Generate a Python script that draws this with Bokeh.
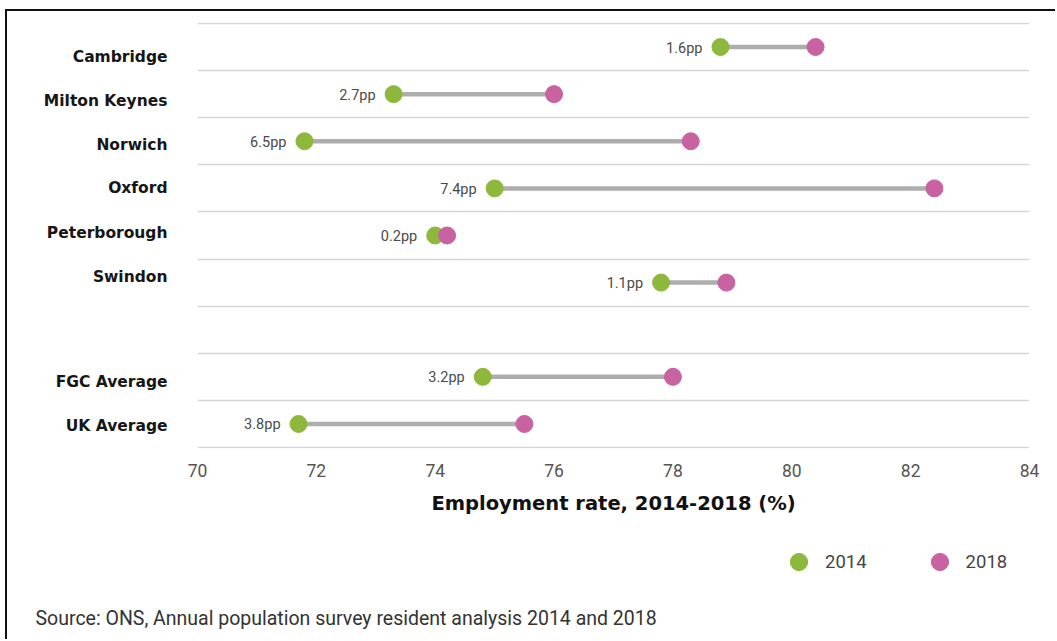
from bokeh.plotting import figure
from bokeh.layouts import column
from bokeh.models import (ColumnDataSource, FixedTicker, Range1d, Legend, LegendItem, Title)
from bokeh.core.properties import value
from bokeh.embed import file_html
from bokeh.resources import INLINE

areas = ["Cambridge", "Milton Keynes", "Norwich", "Oxford", "Peterborough",
         "Swindon", "FGC Average", "UK Average"]
rate_2014 = [78.8, 73.3, 71.8, 75.0, 74.0, 77.8, 74.8, 71.7]
rate_2018 = [80.4, 76.0, 78.3, 82.4, 74.2, 78.9, 78.0, 75.5]
change_labels = ["1.6pp", "2.7pp", "6.5pp", "7.4pp", "0.2pp", "1.1pp", "3.2pp", "3.8pp"]
x_ticks = [70, 72, 74, 76, 78, 80, 82, 84]
series_names = ["2014", "2018"]
source_text = "Source: ONS, Annual population survey resident analysis 2014 and 2018"
x_title = "Employment rate, 2014-2018 (%)"

# style: small vertical nudges (px) of the area names, as in the original layout
label_nudge_px = [10, 7, 4, 0, -2, -6, 5, 2]

GREEN = "#8DB83C"
PINK = "#C862A1"
W = 1050
ROW_PX = 47.1

# one blank row separates the six cities from the two averages
n_cities = 6
rows = [i if i < n_cities else i + 1 for i in range(len(areas))]
n_rows = len(areas) + 1

src = ColumnDataSource(dict(area=areas, row=rows, r14=rate_2014, r18=rate_2018, lbl=change_labels))

p = figure(width=W, height=519, output_backend="svg", toolbar_location=None,
           x_range=Range1d(x_ticks[0], x_ticks[-1]),
           y_range=Range1d(n_rows - 0.48, -0.52),
           min_border_left=190, min_border_right=28, min_border_top=11, min_border_bottom=82)
p.margin = (9, 0, 0, 5)
p.styles = {"border-top": "2px solid #111", "border-left": "2px solid #111"}
p.outline_line_color = None
p.background_fill_color = "white"
p.border_fill_color = "white"

# grid lines between rows
p.xgrid.visible = False
p.ygrid.ticker = FixedTicker(ticks=[r - 0.5 for r in range(n_rows + 1)])
p.ygrid.grid_line_color = "#D6D6D6"
p.ygrid.grid_line_width = 1.6

# connectors and dots
p.segment(x0="r14", y0="row", x1="r18", y1="row", source=src,
          line_color="#ADADAD", line_width=4.5)
p.scatter(x="r14", y="row", source=src, size=17, fill_color=GREEN, line_color=GREEN)
p.scatter(x="r18", y="row", source=src, size=17, fill_color=PINK, line_color=PINK)

p.text(x="r14", y="row", text="lbl", source=src, x_offset=-18, y_offset=1,
       text_align="right", text_baseline="middle", text_font=value("Roboto"),
       text_font_size="14.5px", text_color="#4A4A4A")

# y axis (area names)
label_pos = [r + n / ROW_PX for r, n in zip(rows, label_nudge_px)]
yax = p.yaxis[0]
yax.ticker = FixedTicker(ticks=label_pos)
yax.major_label_overrides = {lp: a for lp, a in zip(label_pos, areas)}
yax.axis_line_color = None
yax.major_tick_line_color = None
yax.major_tick_out = 0
yax.major_tick_in = 0
yax.minor_tick_line_color = None
yax.major_label_standoff = 30
yax.major_label_text_font = "DejaVu Sans"
yax.major_label_text_font_style = "bold"
yax.major_label_text_font_size = "15.5px"
yax.major_label_text_color = "#161616"

# x axis
xax = p.xaxis[0]
xax.ticker = FixedTicker(ticks=x_ticks)
xax.axis_line_color = None
xax.major_tick_line_color = None
xax.minor_tick_line_color = None
xax.major_tick_out = 0
xax.major_tick_in = 0
xax.major_label_standoff = 15
xax.major_label_text_font = "Roboto"
xax.major_label_text_font_size = "17.5px"
xax.major_label_text_color = "#555555"
xax.axis_label = x_title
xax.axis_label_standoff = 12
xax.axis_label_text_font = "DejaVu Sans"
xax.axis_label_text_font_style = "bold"
xax.axis_label_text_font_size = "19.5px"
xax.axis_label_text_color = "#111111"

# lower panel: legend and source note
H2 = 641 - 530
q = figure(width=W, height=H2, output_backend="svg", toolbar_location=None,
           x_range=Range1d(0, 832), y_range=Range1d(0, 71),
           x_axis_location=None, y_axis_location=None,
           min_border_left=190, min_border_right=28, min_border_top=0, min_border_bottom=40)
q.margin = (0, 0, 0, 5)
q.styles = {"border-left": "2px solid #111"}
q.outline_line_color = None
q.grid.visible = False
q.background_fill_color = "white"
q.border_fill_color = "white"

# legend proxies (hidden renderers, shown only as legend swatches)
l14 = q.scatter(x="r14", y="row", source=src, size=17, fill_color=GREEN, line_color=GREEN, visible=False)
l18 = q.scatter(x="r18", y="row", source=src, size=17, fill_color=PINK, line_color=PINK, visible=False)

legend = Legend(items=[LegendItem(label=series_names[0], renderers=[l14]),
                       LegendItem(label=series_names[1], renderers=[l18])],
                location=(580, 16), orientation="horizontal",
                glyph_width=43, glyph_height=43, label_standoff=5, spacing=51,
                padding=0, margin=0, border_line_color=None, background_fill_alpha=0,
                inactive_fill_alpha=0,
                label_text_font="Roboto", label_text_font_size="18.5px",
                label_text_color="#444444")
q.add_layout(legend)

q.add_layout(Title(text=source_text, align="left", offset=-162, standoff=10,
                   text_font="Roboto", text_font_size="19.5px", text_font_style="normal",
                   text_color="#333333"), "below")

layout = column(p, q, spacing=0)
open("out.html", "w").write(file_html(layout, INLINE))
